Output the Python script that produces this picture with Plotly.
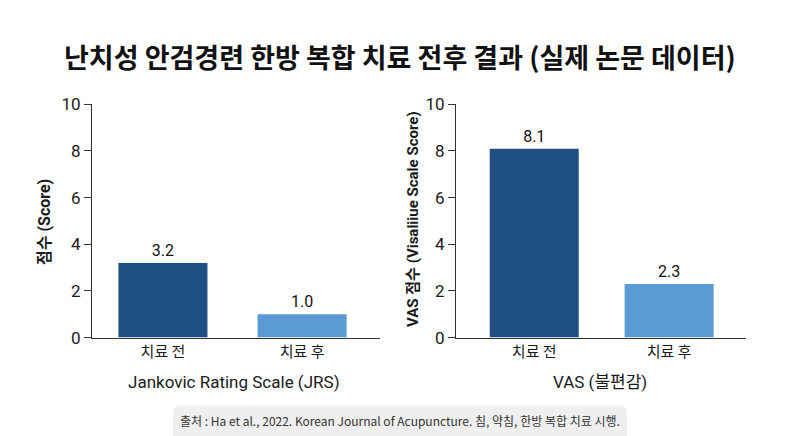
import plotly.graph_objects as go

title_text = "난치성 안검경련 한방 복합 치료 전후 결과 (실제 논문 데이터)"
categories = ["치료 전", "치료 후"]
jrs_values = [3.2, 1.0]
vas_values = [8.1, 2.3]
bar_colors = ["#1f4e82", "#5b9bd5"]
jrs_xtitle = "Jankovic Rating Scale (JRS)"
vas_xtitle = "VAS (불편감)"
jrs_ytitle = "점수 (Score)"
vas_ytitle = "VAS 점수 (Visaliiue Scale Score)"
y_ticks = [0, 2, 4, 6, 8, 10]
source_text = "출처 : Ha et al., 2022. Korean Journal of Acupuncture. 침, 약침, 한방 복합 치료 시행."

W, H = 800, 436
FONT = "Roboto, 'Noto Sans CJK KR', sans-serif"
KFONT = "'Noto Sans CJK KR', sans-serif"

def px(x):
    return x / W

def py(y):
    # map target screen y to layout y (compensates observed vertical scaling)
    yi = (y - 8.4) / 0.957
    return 1 - yi / H

fig = go.Figure()

fig.add_trace(go.Bar(
    x=categories, y=jrs_values, marker=dict(color=bar_colors, line=dict(width=0)),
    width=0.64, text=[f"{v:.1f}" for v in jrs_values], textposition="outside",
    textfont=dict(family=FONT, size=16, color="#111"), cliponaxis=False,
    xaxis="x", yaxis="y", showlegend=False, hoverinfo="skip"))
fig.add_trace(go.Bar(
    x=categories, y=vas_values, marker=dict(color=bar_colors, line=dict(width=0)),
    width=0.66, text=[f"{v:.1f}" for v in vas_values], textposition="outside",
    textfont=dict(family=FONT, size=16, color="#111"), cliponaxis=False,
    xaxis="x2", yaxis="y2", showlegend=False, hoverinfo="skip"))

ydom = [py(337), py(103)]
yax = dict(range=[0, 10], tickvals=y_ticks, showgrid=False, zeroline=False,
           showline=True, linecolor="#333", linewidth=1, ticks="outside",
           ticklen=7, tickcolor="#333", tickfont=dict(family=FONT, size=17, color="#1a1a1a"),
           domain=ydom)
xax = dict(showgrid=False, zeroline=False, showline=True, linecolor="#333",
           linewidth=1, ticks="", tickfont=dict(family=KFONT, size=15, color="#1a1a1a"),
           type="category")

fig.update_layout(
    width=W, height=H, margin=dict(l=0, r=0, t=0, b=0),
    paper_bgcolor="white", plot_bgcolor="white",
    xaxis=dict(xax, domain=[px(92), px(380)], range=[-0.51, 1.56], anchor="y"),
    yaxis=dict(yax, anchor="x"),
    xaxis2=dict(xax, domain=[px(456), px(746)], range=[-0.58, 1.57], anchor="y2"),
    yaxis2=dict(yax, anchor="x2"),
    bargap=0.35,
)

annotations = [
    dict(text=f"<b>{title_text}</b>", x=0.5, y=py(55), xref="paper", yref="paper",
         showarrow=False, font=dict(family=KFONT, size=27, color="#111"),
         xanchor="center", yanchor="middle"),
    dict(text=jrs_xtitle, x=px(234), y=py(382), xref="paper", yref="paper",
         showarrow=False, font=dict(family=FONT, size=17, color="#1a1a1a"),
         xanchor="center", yanchor="middle"),
    dict(text=vas_xtitle, x=px(600), y=py(382), xref="paper", yref="paper",
         showarrow=False, font=dict(family=FONT, size=17, color="#1a1a1a"),
         xanchor="center", yanchor="middle"),
    dict(text=f"<b>{jrs_ytitle}</b>", x=px(45), y=py(221), xref="paper", yref="paper",
         showarrow=False, textangle=-90, font=dict(family=FONT, size=16, color="#1a1a1a"),
         xanchor="center", yanchor="middle"),
    dict(text=f"<b>{vas_ytitle}</b>", x=px(413), y=py(218), xref="paper", yref="paper",
         showarrow=False, textangle=-90, font=dict(family=FONT, size=15, color="#1a1a1a"),
         xanchor="center", yanchor="middle"),
    dict(text=source_text, x=0.5, y=py(420), xref="paper", yref="paper",
         showarrow=False, font=dict(family=KFONT, size=12, color="#333"),
         xanchor="center", yanchor="middle"),
]
fig.update_layout(annotations=annotations)

# rounded source box
x0, x1, y0, y1 = 173, 627, 405, 450
r = 7
def P(x, y):
    return f"{px(x)},{py(y)}"
path = (f"M {P(x0 + r, y0)} L {P(x1 - r, y0)} Q {P(x1, y0)} {P(x1, y0 + r)} "
        f"L {P(x1, y1 - r)} Q {P(x1, y1)} {P(x1 - r, y1)} L {P(x0 + r, y1)} "
        f"Q {P(x0, y1)} {P(x0, y1 - r)} L {P(x0, y0 + r)} Q {P(x0, y0)} {P(x0 + r, y0)} Z")
fig.add_shape(type="path", path=path, xref="paper", yref="paper",
              fillcolor="#efefef", line=dict(width=0), layer="below")

fig.write_html("out.html", config={"displayModeBar": False},
               post_script="document.body.style.margin='0';")
